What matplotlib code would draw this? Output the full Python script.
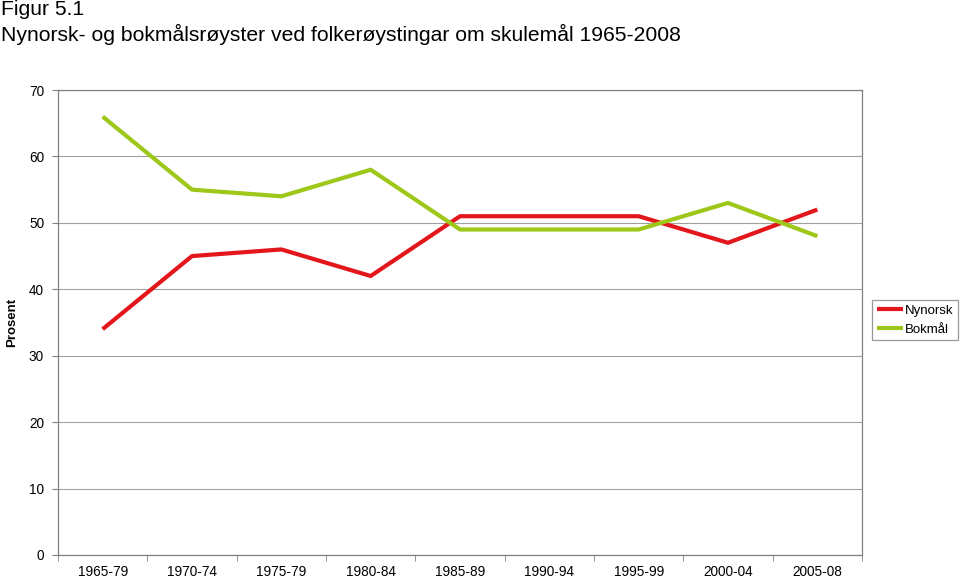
import numpy as np
import matplotlib
matplotlib.use("Agg")
import matplotlib.pyplot as plt

plt.rcParams['font.family'] = ['Liberation Sans', 'DejaVu Sans']

# data
periods = ["1965-79", "1970-74", "1975-79", "1980-84", "1985-89",
           "1990-94", "1995-99", "2000-04", "2005-08"]
nynorsk = [34, 45, 46, 42, 51, 51, 51, 47, 52]
bokmal = [66, 55, 54, 58, 49, 49, 49, 53, 48]

fig = plt.figure(figsize=(9.6, 5.79), dpi=100)
ax = fig.add_axes([58/960, 1-555/579, (862-58)/960, (555-90)/579])

x = np.arange(len(periods))
ax.plot(x, nynorsk, color='#e3161b', lw=3, label='Nynorsk', solid_capstyle='butt')
ax.plot(x, bokmal, color='#9dc81a', lw=3, label='Bokmål', solid_capstyle='butt')

ax.set_xlim(-0.5, len(periods) - 0.5)
ax.set_ylim(0, 70)
ax.set_yticks(range(0, 71, 10))
ax.yaxis.grid(True, color='#a0a0a0', lw=0.8)
ax.set_axisbelow(True)

# category labels centred, ticks between categories
ax.set_xticks(x)
ax.set_xticklabels(periods, fontsize=9.8)
ax.set_xticks(np.arange(-0.5, len(periods)), minor=True)
ax.tick_params(axis='x', which='major', length=0, pad=7)
ax.tick_params(axis='x', which='minor', length=4, color='#808080')
ax.tick_params(axis='y', length=4, color='#808080', labelsize=9.8, pad=6)

for s in ax.spines.values():
    s.set_color('#808080')
    s.set_linewidth(0.9)

ax.set_ylabel('Prosent', fontsize=9.5, fontweight='bold')
ax.yaxis.set_label_coords((18 - 58) / 804, 0.5)

fig.text(1/960, 1, 'Figur 5.1', fontsize=15.2, va='top', ha='left')
fig.text(1/960, 1-24/579, 'Nynorsk- og bokmålsrøyster ved folkerøystingar om skulemål 1965-2008',
         fontsize=15.2, va='top', ha='left')

leg = fig.legend(loc='upper left', bbox_to_anchor=(872/960, 1-300/579),
                 fontsize=9.5, frameon=True, fancybox=False,
                 handlelength=2.0, handletextpad=0.15, borderpad=0.35,
                 labelspacing=0.5, borderaxespad=0)
leg.get_frame().set_edgecolor('#808080')
leg.get_frame().set_linewidth(0.9)

fig.savefig('out.png', dpi=100)
